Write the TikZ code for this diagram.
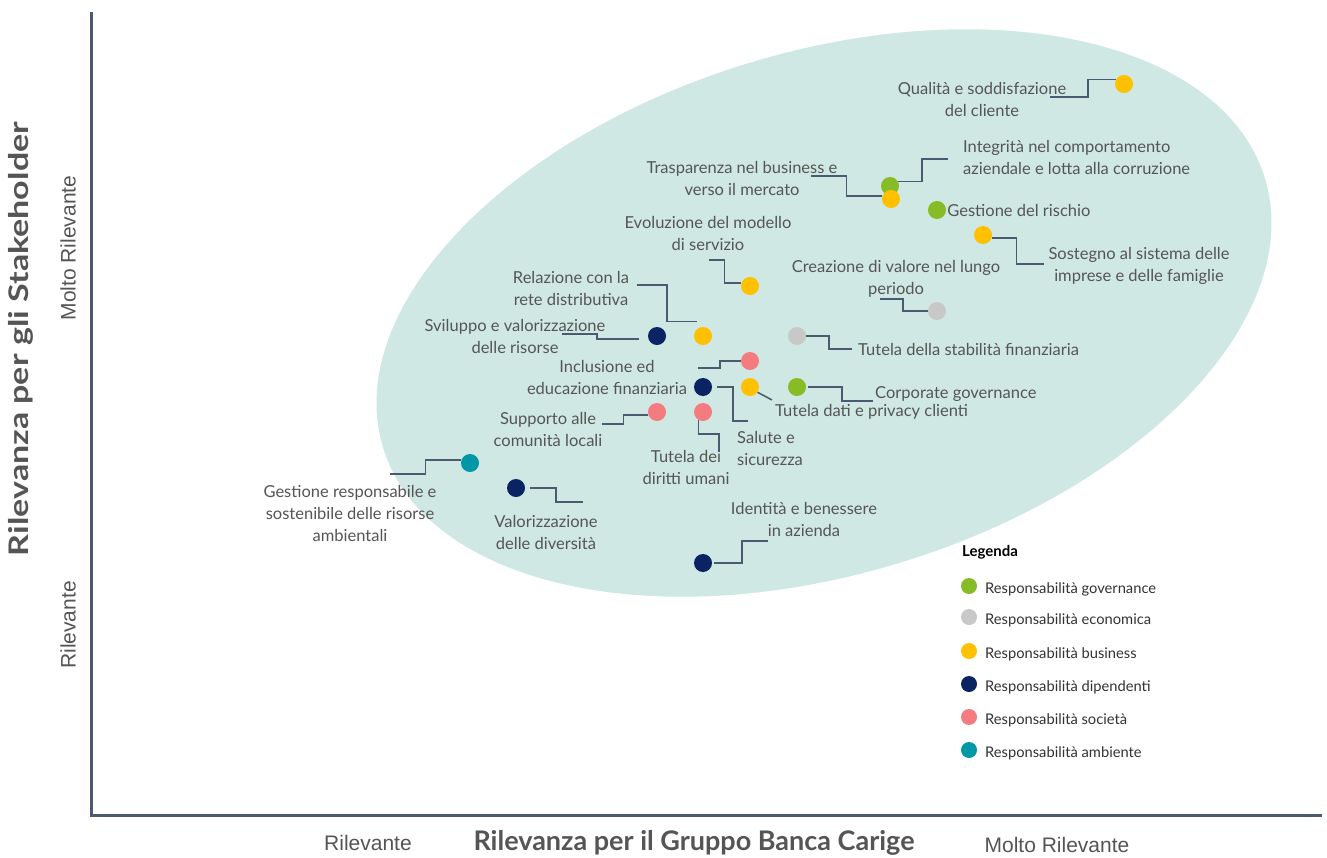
\documentclass[tikz,border=0pt]{standalone}
\usepackage{fontspec}
\setmainfont{Lato}
\newfontfamily\axisfont{Liberation Sans}
\usepackage{tikz}
\usetikzlibrary{positioning}

\definecolor{ellfill}{HTML}{CFE8E3}
\definecolor{axisc}{HTML}{4A5A70}
\definecolor{linec}{HTML}{4A5A70}
\definecolor{txtc}{HTML}{555555}
\definecolor{govc}{HTML}{86BC25}
\definecolor{ecoc}{HTML}{C8C8C8}
\definecolor{busc}{HTML}{FFC000}
\definecolor{dipc}{HTML}{0A2463}
\definecolor{socc}{HTML}{F47C80}
\definecolor{ambc}{HTML}{0097A7}

\begin{document}
\begin{tikzpicture}[x=1pt, y=-1pt,
    dot/.style={circle, fill=#1, minimum size=18pt, inner sep=0pt},
    conn/.style={draw=linec, line width=1.5pt},
    lbl/.style={text=txtc, font=\fontsize{16.5}{22}\selectfont, align=center, inner sep=0pt},
    axlbl/.style={text=txtc, font=\axisfont\fontsize{21}{24}\selectfont, inner sep=0pt},
    axtitle/.style={text=txtc, font=\bfseries\fontsize{27}{30}\selectfont, inner sep=0pt}]
    \useasboundingbox[fill=white] (0,0) rectangle (1327,857);

    \fill[ellfill, rotate around={17:(824,313)}] (824,313) ellipse [x radius=461, y radius=261];

    \draw[axisc, line width=3pt] (91,12) -- (91,815) -- (1322,815);

    \node[axlbl] at (368,843) {Rilevante};
    \node[axtitle] at (694,843) {Rilevanza per il Gruppo Banca Carige};
    \node[axlbl] at (1057,845) {Molto Rilevante};
    \node[axtitle, rotate=90] at (21,339) {\scalebox{1.26}[1]{Rilevanza per gli Stakeholder}};
    \node[axlbl, rotate=90] at (68,248) {Molto Rilevante};
    \node[axlbl, rotate=90] at (68,625) {Rilevante};

    \node[dot=busc] (q) at (1124,84) {};
    \node[dot=govc] (gi) at (890,186) {};
    \node[dot=busc] (bt) at (891,199) {};
    \node[dot=govc] (gr) at (937,210) {};
    \node[dot=busc] (bs) at (983,235) {};
    \node[dot=busc] (be) at (750,286) {};
    \node[dot=ecoc] (ec) at (937,311) {};
    \node[dot=dipc] (ds) at (657,336) {};
    \node[dot=busc] (br) at (703,336) {};
    \node[dot=ecoc] (et) at (797,336) {};
    \node[dot=socc] (si) at (750,361) {};
    \node[dot=dipc] (ss) at (703,387) {};
    \node[dot=busc] (bd) at (750,387) {};
    \node[dot=govc] (gc) at (797,387) {};
    \node[dot=socc] (sc) at (657,412) {};
    \node[dot=socc] (sd) at (703,412) {};
    \node[dot=ambc] (ta) at (470,463) {};
    \node[dot=dipc] (dv) at (516,488) {};
    \node[dot=dipc] (di) at (703,563) {};

    \node[lbl] (tq) at (982,99) {Qualità e soddisfazione\\del cliente};
    \node[lbl, align=left, anchor=west] (tgi) at (963,157) {Integrità nel comportamento\\aziendale e lotta alla corruzione};
    \node[lbl] (tbt) at (742,178) {Trasparenza nel business e\\verso il mercato};
    \node[lbl, right=1pt of gr] (tgr) {Gestione del rischio};
    \node[lbl] (tbs) at (1139,266) {Sostegno al sistema delle\\imprese e delle famiglie};
    \node[lbl] (tbe) at (708,233) {Evoluzione del modello\\di servizio};
    \node[lbl] (tec) at (896,279) {Creazione di valore nel lungo\\periodo};
    \node[lbl] (tbr) at (571,288) {Relazione con la\\rete distributiva};
    \node[lbl] (tds) at (515,336) {Sviluppo e valorizzazione\\delle risorse};
    \node[lbl, anchor=west] (tet) at (858,349) {Tutela della stabilità finanziaria};
    \node[lbl] (tsi) at (607,377) {Inclusione ed\\educazione finanziaria};
    \node[lbl, align=left, anchor=west] (tss) at (737,448) {Salute e\\sicurezza};
    \node[lbl, anchor=west] (tbd) at (775,412) {Tutela dati e privacy clienti};
    \node[lbl, anchor=west] (tgc) at (875,394) {Corporate governance};
    \node[lbl] (tsc) at (548,429) {Supporto alle\\comunità locali};
    \node[lbl] (tsd) at (686,467) {Tutela dei\\diritti umani};
    \node[lbl] (tta) at (350,513) {Gestione responsabile e\\sostenibile delle risorse\\ambientali};
    \node[lbl] (tdv) at (546,532) {Valorizzazione\\delle diversità};
    \node[lbl] (tdi) at (804,519) {Identità e benessere\\in azienda};

    \coordinate (qe) at (1050,97);
    \coordinate (gie) at (948,159);
    \coordinate (bte) at (811,176);
    \coordinate (bse) at (1044,264);
    \coordinate (bee) at (709,260);
    \coordinate (ece) at (880,299);
    \coordinate (bre) at (637,285);
    \coordinate (dse) at (562,334);
    \coordinate (ete) at (852,349);
    \coordinate (sie) at (698,368);
    \coordinate (sse) at (748,421);
    \coordinate (bde) at (772,400);
    \coordinate (gce) at (873,401);
    \coordinate (sce) at (602,424);
    \coordinate (sde) at (719,452);
    \coordinate (tae) at (390,474);
    \coordinate (dve) at (583,502);
    \coordinate (die) at (768,541);

    \draw[conn] (q.150) -- ++(-28,0) |- (qe);
    \draw[conn] (gi.30) -- ++(24,0) |- (gie);
    \draw[conn] (bt.160) -- ++(-36,0) |- (bte);
    \draw[conn] (bs.-20) -- ++(25,0) |- (bse);
    \draw[conn] (be.160) -- ++(-17,0) |- (bee);
    \draw[conn] (ec.west) -- ++(-25,0) |- (ece);
    \draw[conn] (bre) -- ++(30,0) |- ([yshift=8pt]br.north west);
    \draw[conn] ([shift={(-9pt,-3pt)}]ds.west) -- ++(-42,0) |- (dse);
    \draw[conn] (et.east) -- ++(23,0) |- (ete);
    \draw[conn] (si.west) -- ++(-21,0) |- (sie);
    \draw[conn] ([xshift=5pt]ss.east) -- ++(16,0) |- (sse);
    \draw[conn] (bd.-35) -- (bde);
    \draw[conn] ([xshift=2pt]gc.east) -- ++(34,0) |- (gce);
    \draw[conn] (sc.200) -- ++(-25,0) |- (sce);
    \draw[conn] (sd.-120) -- ++(0,14) -| (sde);
    \draw[conn] (ta.160) -- ++(-36,0) |- (tae);
    \draw[conn] ([xshift=5pt]dv.east) -- ++(26,0) |- (dve);
    \draw[conn] ([xshift=2pt]di.east) -- ++(28,0) |- (die);

    \node[anchor=west, inner sep=0pt, font=\bfseries\fontsize{15}{17}\selectfont] (leg) at (962,552) {Legenda};
    \foreach \c/\t/\y [count=\i] in {govc/governance/586, ecoc/economica/617,
        busc/business/651, dipc/dipendenti/684, socc/società/717, ambc/ambiente/750} {
        \node[dot=\c, minimum size=16pt] (l\i) at (969,\y) {};
        \node[lbl, anchor=west, text=black!80, font=\fontsize{14.7}{17}\selectfont] (lt\i) at (985,\y+3) {Responsabilità \t};
    }
\end{tikzpicture}
\end{document}
